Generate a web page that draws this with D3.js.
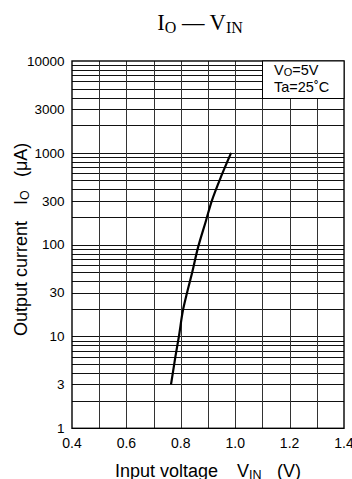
<!DOCTYPE html>
<html lang="en">
<head>
  <meta charset="UTF-8">
  <title>IO - VIN</title>
  <script src="https://cdn.jsdelivr.net/npm/d3@7"></script>
  <style>
    body { margin: 0; background: #fff; }
    svg text { font-family: "Liberation Sans", Arial, Helvetica, sans-serif; fill: #000; }
    .title text { font-family: "Liberation Serif", "Times New Roman", serif; }
  </style>
</head>
<body>
<div id="chart"></div>
<script>
  // curve
  var vin = [0.764, 0.780, 0.793, 0.809, 0.823, 0.842, 0.862, 0.892, 0.914, 0.949, 0.985];
  var io  = [3, 6, 10, 20, 30, 50, 90, 180, 300, 560, 1000];

  var xTicks = [0.4, 0.6, 0.8, 1.0, 1.2, 1.4];
  var yTicks = [1, 3, 10, 30, 100, 300, 1000, 3000, 10000];

  var W = 352, H = 479;
  var pLeft = 72, pRight = 344, pTop = 61, pBottom = 428.3;

  var svg = d3.select("#chart").append("svg")
    .attr("width", W)
    .attr("height", H);

  var x = d3.scaleLinear().domain([0.4, 1.4]).range([pLeft, pRight]);
  var y = d3.scaleLog().domain([1, 10000]).range([pBottom, pTop]);

  // grid: every 0.1 V and 1..9 per decade
  var vLines = d3.range(0.5, 1.35, 0.1);
  var hLines = [];
  [1, 10, 100, 1000].forEach(function(d) {
    for (var k = 2; k <= 10; k++) hLines.push(d * k);
  });
  hLines = hLines.filter(function(v) { return v < 10000; });

  // legend box area (no grid inside)
  var boxX = x(1.1), boxY = y(4000);

  svg.append("g").selectAll("line")
    .data(hLines)
    .enter().append("line")
    .attr("x1", pLeft)
    .attr("x2", function(d) { return y(d) < boxY - 0.5 ? boxX : pRight; })
    .attr("y1", function(d) { return Math.round(y(d)) + 0.5; })
    .attr("y2", function(d) { return Math.round(y(d)) + 0.5; })
    .attr("stroke", "#111")
    .attr("stroke-width", 1);

  svg.append("g").selectAll("line")
    .data(vLines)
    .enter().append("line")
    .attr("x1", function(d) { return Math.round(x(d)) + 0.5; })
    .attr("x2", function(d) { return Math.round(x(d)) + 0.5; })
    .attr("y1", function(d) { return d > 1.15 ? boxY : pTop; })
    .attr("y2", pBottom)
    .attr("stroke", "#333")
    .attr("stroke-width", 1);

  // frame
  svg.append("rect")
    .attr("x", pLeft)
    .attr("y", pTop)
    .attr("width", pRight - pLeft)
    .attr("height", pBottom - pTop)
    .attr("fill", "none")
    .attr("stroke", "#000")
    .attr("stroke-width", 1.4);

  // legend box
  svg.append("rect")
    .attr("x", Math.round(boxX) + 0.5)
    .attr("y", pTop)
    .attr("width", pRight - Math.round(boxX) - 0.5)
    .attr("height", Math.round(boxY) + 0.5 - pTop)
    .attr("fill", "#fff")
    .attr("stroke", "#000")
    .attr("stroke-width", 1);

  var leg = svg.append("g").attr("font-size", 14.5);
  var t1 = leg.append("text").attr("x", 274).attr("y", 74.5);
  t1.append("tspan").text("V");
  t1.append("tspan").attr("font-size", 11).attr("dy", 1).text("O");
  t1.append("tspan").attr("dy", -1).text("=5V");
  leg.append("text").attr("x", 274).attr("y", 92).text("Ta=25˚C");

  // curve
  var pts = vin.map(function(v, i) { return [v, io[i]]; });
  svg.append("path")
    .datum(pts)
    .attr("fill", "none")
    .attr("stroke", "#000")
    .attr("stroke-width", 2.2)
    .attr("d", d3.line()
      .x(function(d) { return x(d[0]); })
      .y(function(d) { return y(d[1]); })
      .curve(d3.curveMonotoneY));

  // tick labels
  svg.append("g").attr("font-size", 13.5).attr("text-anchor", "end")
    .selectAll("text")
    .data(yTicks)
    .enter().append("text")
    .attr("x", 64.5)
    .attr("y", function(d) { return y(d) + 4.8; })
    .text(function(d) { return d; });

  svg.append("g").attr("font-size", 14).attr("text-anchor", "middle")
    .selectAll("text")
    .data(xTicks)
    .enter().append("text")
    .attr("x", function(d) { return x(d); })
    .attr("y", 448)
    .text(function(d) { return d3.format(".1f")(d); });

  // axis titles
  var xt = svg.append("g").attr("font-size", 18);
  xt.append("text").attr("x", 115).attr("y", 476.5).text("Input voltage");
  var xv = xt.append("text").attr("x", 237).attr("y", 476.5);
  xv.append("tspan").text("V");
  xv.append("tspan").attr("font-size", 12.5).attr("dy", 2).text("IN");
  xt.append("text").attr("x", 277).attr("y", 476.5).text("(V)");

  var yt = svg.append("g").attr("font-size", 18)
    .attr("transform", "translate(27,0) rotate(-90)");
  yt.append("text").attr("x", -336).attr("y", 0).text("Output current");
  var yi = yt.append("text").attr("x", -205).attr("y", 0);
  yi.append("tspan").text("I");
  yi.append("tspan").attr("font-size", 12.5).attr("dy", 2).text("O");
  yt.append("text").attr("x", -177).attr("y", 0).text("(\u03bcA)");

  // title
  var tt = svg.append("g").attr("class", "title").append("text")
    .attr("x", 200)
    .attr("y", 30)
    .attr("text-anchor", "middle")
    .attr("font-size", 22.5);
  tt.append("tspan").text("I");
  tt.append("tspan").attr("font-size", 16).attr("dy", 3).text("O");
  tt.append("tspan").attr("dy", -3).text(" \u2014 V");
  tt.append("tspan").attr("font-size", 16).attr("dy", 3).text("IN");
</script>
</body>
</html>
